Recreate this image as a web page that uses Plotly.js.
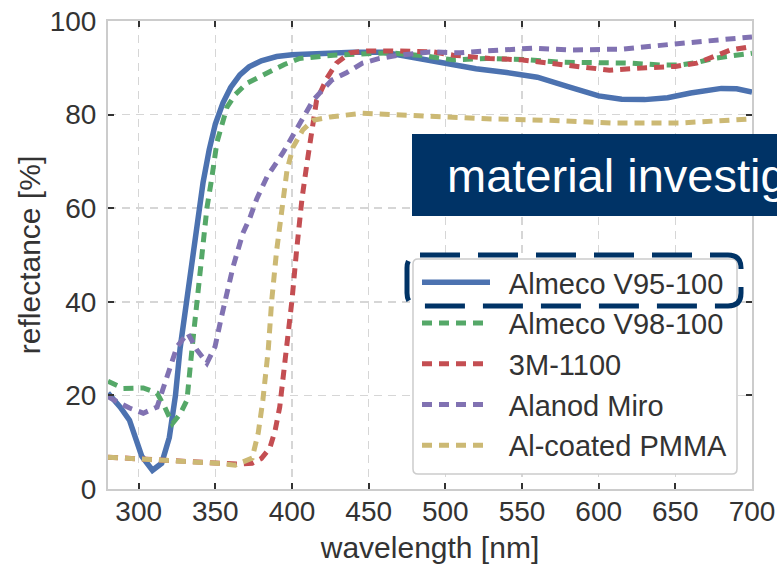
<!DOCTYPE html>
<html>
<head>
<meta charset="utf-8">
<script src="https://cdn.plot.ly/plotly-3.0.1.min.js"></script>
<style>
  html, body { margin: 0; padding: 0; background: #ffffff; }
  #chart { width: 777px; height: 564px; }
</style>
</head>
<body>
<div id="chart"></div>
<script>
// ---- data ----
const seriesNames = ["Almeco V95-100", "Almeco V98-100", "3M-1100", "Alanod Miro", "Al-coated PMMA"];

const almecoV95X = [280, 288, 294, 302, 309, 315, 320, 324, 327, 333.5, 338, 342, 346, 350, 355, 360, 366, 372, 380, 390, 400, 420, 440, 460, 480, 500, 520, 540, 560, 580, 600, 615, 630, 645, 660, 680, 690, 700];
const almecoV95Y = [20.5, 17.5, 14.7, 7, 4, 5.5, 11, 20, 30, 46, 57, 65.5, 72.5, 78, 82.5, 85.8, 88.5, 90.2, 91.5, 92.4, 92.8, 93.1, 93.3, 93.3, 92.2, 91, 89.8, 89, 88, 86, 84, 83.3, 83.2, 83.6, 84.6, 85.6, 85.5, 84.8];

const almecoV98X = [280, 290, 303, 312, 317, 322, 327, 331.5, 334.8, 338, 342, 344.5, 347.8, 351, 357.6, 363, 370.6, 380, 387.6, 395, 405, 427, 450, 464, 485, 505, 527, 550, 575, 600, 620, 640, 653, 665, 675, 688, 700];
const almecoV98Y = [23, 21.5, 21.6, 20.5, 17.5, 14, 16, 19, 30, 40, 53, 60, 66.7, 74, 81.6, 84.3, 86.7, 88.4, 89.5, 90.7, 92, 92.7, 93, 93.2, 92.6, 91.7, 92, 91.8, 91.2, 91.2, 91, 90.6, 90.6, 91.2, 92, 92.6, 93.1];

const m1100X = [280, 320, 350, 365, 374, 380, 385.6, 389, 392, 396.5, 400, 403, 406.5, 409.8, 413, 416, 422.8, 429, 437.8, 449, 470, 492, 505, 529, 549, 575, 607, 631, 650, 664, 675, 686, 697, 700];
const m1100Y = [6.8, 6.2, 5.5, 5.3, 5.5, 6.5, 8.8, 12.5, 17.5, 29.7, 40.4, 51, 62, 69.7, 77, 83, 87.8, 91, 93.2, 93.6, 93.6, 93.4, 92.7, 92, 91.7, 90.6, 89.5, 90, 90.3, 91, 92.3, 93.8, 94.4, 94.5];

const miroX = [280, 294, 303, 312, 318.5, 325, 332, 338, 344.5, 349.8, 354, 361.5, 368, 372.6, 377, 383.7, 394, 405, 413.7, 418, 426, 435.8, 446, 457, 470, 490, 509.6, 527, 557, 581, 616, 646.5, 672.6, 694, 700];
const miroY = [19.7, 17.3, 16.2, 17.5, 24, 30.4, 33.3, 29.7, 26.9, 30.4, 36.8, 47.4, 54.7, 58, 62, 66.7, 71.8, 78.2, 83, 84.6, 87.4, 89, 91, 92, 92.7, 93.4, 93.2, 93.6, 94.2, 93.8, 94, 95, 95.7, 96.5, 96.6];

const pmmaX = [280, 318.5, 351, 363, 374, 378, 381, 384.5, 386.8, 390, 393.5, 396.7, 400.6, 407, 413.7, 424.8, 446, 470, 503, 527, 566, 609.5, 653, 680, 700];
const pmmaY = [6.8, 6.2, 5.5, 5.1, 6.6, 12, 19, 29.7, 40.4, 51, 59, 68, 73, 76.7, 78.8, 79.5, 80.3, 79.9, 79.5, 79.1, 78.8, 78.2, 78.2, 78.6, 79.1];

const xTickVals = [300, 350, 400, 450, 500, 550, 600, 650, 700];
const yTickVals = [0, 20, 40, 60, 80, 100];

const colors = ["#4C72B0", "#55A868", "#C44E52", "#8172B2", "#CCB974"];
const xs = [almecoV95X, almecoV98X, m1100X, miroX, pmmaX];
const ys = [almecoV95Y, almecoV98Y, m1100Y, miroY, pmmaY];

// ---- layout helpers (pixel -> paper) ----
const W = 777, H = 564;
const M = { l: 108, r: 25, t: 21, b: 75 };
const PW = W - M.l - M.r, PH = H - M.t - M.b;
const px = v => (v - M.l) / PW;
const py = v => (H - M.b - v) / PH;
function roundRect(x0, y0, x1, y1, r) {
  const p = [
    ["M", x0 + r, y0], ["L", x1 - r, y0], ["Q", x1, y0, x1, y0 + r],
    ["L", x1, y1 - r], ["Q", x1, y1, x1 - r, y1], ["L", x0 + r, y1],
    ["Q", x0, y1, x0, y1 - r], ["L", x0, y0 + r], ["Q", x0, y0, x0 + r, y0]
  ];
  return p.map(seg => {
    const cmd = seg[0];
    const nums = seg.slice(1);
    const out = [];
    for (let i = 0; i < nums.length; i += 2) out.push(px(nums[i]).toFixed(5) + "," + py(nums[i + 1]).toFixed(5));
    return cmd + " " + out.join(" ");
  }).join(" ") + " Z";
}

// small gap between legend sample and label, as in the reference
const LEGEND_PAD = "\u00a0\u2009";

const traces = seriesNames.map((name, i) => ({
  type: "scatter",
  mode: "lines",
  name: LEGEND_PAD + name,
  x: xs[i],
  y: ys[i],
  line: { color: colors[i], width: i === 0 ? 5.5 : 5, dash: i === 0 ? "solid" : "10px,7px" }
}));

const FONT = "Liberation Sans, Arial, Helvetica, sans-serif";
const axisCommon = {
  showline: true, linecolor: "#cccccc", linewidth: 2, mirror: "ticks",
  ticks: "inside", ticklen: 6, tickwidth: 2, tickcolor: "#333333",
  showgrid: true, gridcolor: "#d6d6d6", gridwidth: 1.5, griddash: "8px,6px",
  zeroline: false,
  tickfont: { family: FONT, size: 28, color: "#333333" }
};

const layout = {
  width: W, height: H,
  margin: M,
  paper_bgcolor: "#ffffff",
  plot_bgcolor: "#ffffff",
  showlegend: true,
  xaxis: Object.assign({}, axisCommon, {
    range: [280, 700], tickvals: xTickVals, ticktext: xTickVals.map(String),
    ticklabelstandoff: -4,
    title: { text: "wavelength [nm]", font: { family: FONT, size: 30, color: "#333333" }, standoff: 13 }
  }),
  yaxis: Object.assign({}, axisCommon, {
    range: [0, 100], tickvals: yTickVals, ticktext: yTickVals.map(String),
    ticklabelstandoff: 4,
    title: { text: "reflectance [%]", font: { family: FONT, size: 30, color: "#333333" }, standoff: 0 }
  }),
  legend: {
    x: px(417), y: py(257), xanchor: "left", yanchor: "top",
    bgcolor: "rgba(0,0,0,0)", borderwidth: 0,
    font: { family: FONT, size: 29, color: "#333333" },
    itemwidth: 68, tracegroupgap: 0
  },
  shapes: [
    { type: "path", xref: "paper", yref: "paper", layer: "above",
      path: roundRect(413, 259, 737, 474, 5),
      fillcolor: "#ffffff", line: { color: "#cccccc", width: 1.5 } },
    { type: "path", xref: "paper", yref: "paper", layer: "above",
      path: roundRect(407, 255, 741, 306, 13),
      fillcolor: "rgba(0,0,0,0)", line: { color: "#003366", width: 5, dash: "40px,18px" } },
    { type: "rect", xref: "paper", yref: "paper", layer: "above",
      x0: px(412), x1: px(820), y0: py(216), y1: py(134),
      fillcolor: "#003366", line: { width: 0 } }
  ],
  annotations: [
    { xref: "paper", yref: "paper", x: px(445), y: py(175), xanchor: "left", yanchor: "middle",
      text: "material investigation", showarrow: false,
      font: { family: FONT, size: 47, color: "#ffffff" } }
  ]
};

Plotly.newPlot("chart", traces, layout, { displayModeBar: false, staticPlot: true });
</script>
</body>
</html>
